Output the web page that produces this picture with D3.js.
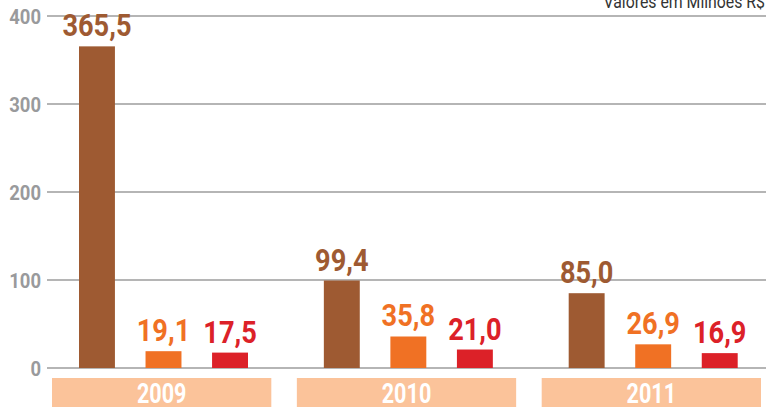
<!DOCTYPE html>
<html>
<head>
	<meta charset='utf-8'>
	<script src="https://cdnjs.cloudflare.com/ajax/libs/d3/7.8.5/d3.min.js"></script>
	<style>
	body { margin:0; background:#fff; }
	svg text { font-family:Roboto,"DejaVu Sans",sans-serif; font-weight:bold; }
	</style>
</head>
<body>
<script>
	var years = ['2009', '2010', '2011'];
	var series = ['a', 'b', 'c'];
	var valuesA = [365.5, 99.4, 85.0];
	var valuesB = [19.1, 35.8, 26.9];
	var valuesC = [17.5, 21.0, 16.9];
	var yTicks = [0, 100, 200, 300, 400];
	var unitLabel = 'Valores em Milhões R$';

	var width = 766, height = 407;
	var colors = {a:'#9e5a32', b:'#f07124', c:'#dc2128'};
	var fmt = function (v) { return d3.format('.1f')(v).replace('.', ','); };

	var svg = d3.select('body').append('svg').attr('width', width).attr('height', height);

	var y = d3.scaleLinear().domain([0, 400]).range([368, 16]);
	var x0 = d3.scaleBand().domain(years).range([52, 761]).paddingInner(0.1043).paddingOuter(0);
	var x1 = d3.scaleBand().domain(series).range([27, 196]).paddingInner(0.46).paddingOuter(0);

	// condensed look: squeeze text horizontally
	function sq(x, y, s) { return 'translate(' + x + ',' + y + ') scale(' + s + ',1)'; }

	// grid lines + tick labels
	svg.selectAll('line.grid').data(yTicks).enter().append('line')
		.attr('x1', 47).attr('x2', width)
		.attr('y1', function (d) { return y(d); }).attr('y2', function (d) { return y(d); })
		.attr('stroke', '#b5b5b5').attr('stroke-width', 2);
	svg.selectAll('text.tick').data(yTicks).enter().append('text')
		.attr('transform', function (d) { return sq(41, y(d) + 7.5, 0.88); })
		.attr('text-anchor', 'end').attr('font-size', 21).attr('fill', '#999a9c')
		.text(function (d) { return d; });

	svg.append('text').attr('transform', sq(765, 8, 0.88)).attr('text-anchor', 'end')
		.attr('font-size', 18).style('font-weight', 'normal').attr('fill', '#333')
		.text(unitLabel);

	var rows = years.map(function (yr, i) {
		return {year: yr, vals: [{k:'a', v:valuesA[i]}, {k:'b', v:valuesB[i]}, {k:'c', v:valuesC[i]}]};
	});

	var g = svg.selectAll('g.year').data(rows).enter().append('g')
		.attr('transform', function (d) { return 'translate(' + x0(d.year) + ',0)'; });

	g.append('rect').attr('x', 0).attr('y', 378).attr('width', x0.bandwidth()).attr('height', 30).attr('fill', '#fbc39a');
	g.append('text').attr('transform', sq(x0.bandwidth() / 2, 403, 0.8)).attr('text-anchor', 'middle')
		.attr('font-size', 27).attr('fill', '#fff').text(function (d) { return d.year; });

	g.selectAll('rect.bar').data(function (d) { return d.vals; }).enter().append('rect')
		.attr('x', function (d) { return x1(d.k); }).attr('width', x1.bandwidth())
		.attr('y', function (d) { return y(d.v); }).attr('height', function (d) { return y(0) - y(d.v); })
		.attr('fill', function (d) { return colors[d.k]; });

	g.selectAll('text.val').data(function (d) { return d.vals; }).enter().append('text')
		.attr('transform', function (d) { return sq(x1(d.k) + x1.bandwidth() / 2, y(d.v) - 10, 0.85); })
		.attr('text-anchor', 'middle').attr('font-size', 32)
		.attr('fill', function (d) { return colors[d.k]; })
		.text(function (d) { return fmt(d.v); });
</script>
</body>
</html>
